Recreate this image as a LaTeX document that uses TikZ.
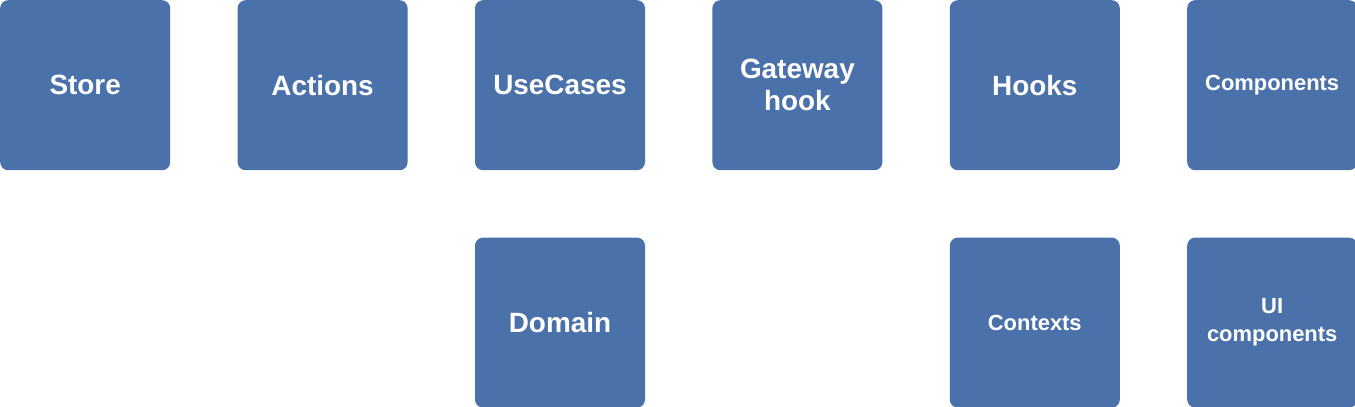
\documentclass[tikz,border=0pt]{standalone}
\usepackage{fontspec}
\setmainfont{Liberation Sans}
\usepackage{xcolor}
\usepackage{tikz}
\usetikzlibrary{positioning}

\definecolor{tileblue}{HTML}{4A71A9}

\begin{document}
\begin{tikzpicture}[
    node distance=67bp,
    tile/.style={rectangle, fill=tileblue, rounded corners=8bp, minimum width=170bp, minimum height=170bp, inner sep=0pt, align=center, text=white, font=\fontsize{28}{32}\selectfont\bfseries},
    smalltile/.style={tile, font=\fontsize{22}{28}\selectfont\bfseries}
]
\useasboundingbox (0,0) rectangle (1355bp,-407bp);

% Top row
\node[tile, anchor=north west] (store) at (0,0) {Store};
\node[tile, right=of store] (actions) {Actions};
\node[tile, right=of actions] (usecases) {UseCases};
\node[tile, right=of usecases] (gateway) {Gateway\\hook};
\node[tile, right=of gateway] (hooks) {Hooks};
\node[smalltile, right=of hooks] (components) {Components};

% Bottom row
\node[tile, below=of usecases] (domain) {Domain};
\node[smalltile, below=of hooks] (contexts) {Contexts};
\node[smalltile, below=of components] (uicomponents) {UI\\components};

\end{tikzpicture}
\end{document}
